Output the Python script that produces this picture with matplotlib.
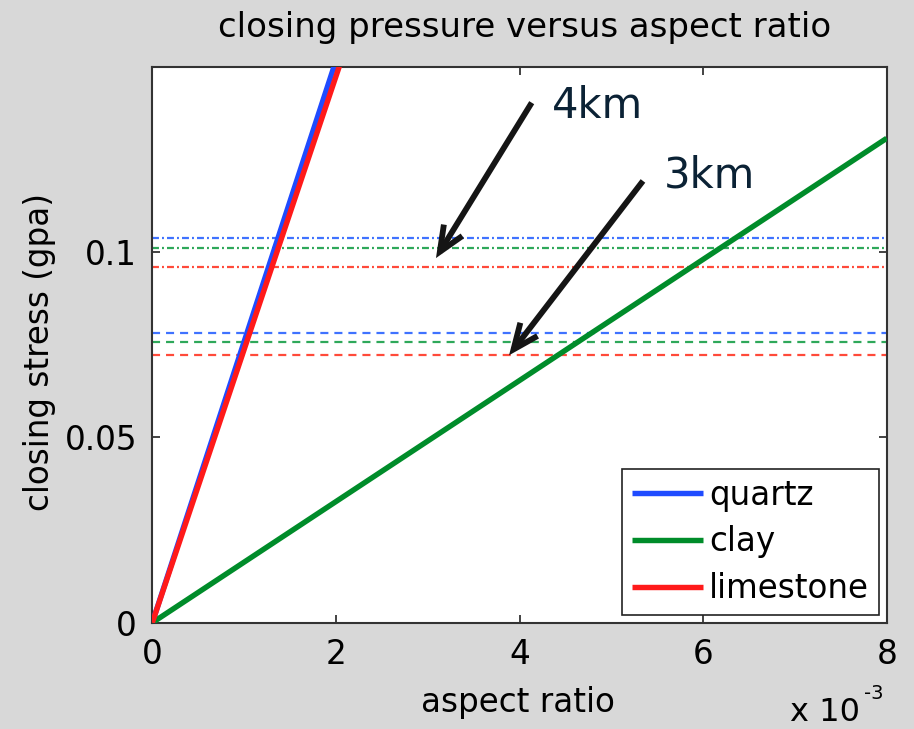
import matplotlib
matplotlib.use("Agg")
import matplotlib.pyplot as plt
from matplotlib.ticker import FuncFormatter, FixedLocator

plt.rcParams["font.family"] = ["DejaVu Sans"]
plt.rcParams["lines.scale_dashes"] = False

# Closing stress is linear in aspect ratio for each mineral
aspect_ratio = [0.0, 0.008]
quartz_stress = [0.0, 0.606]
clay_stress = [0.0, 0.1306]
limestone_stress = [0.0, 0.589]

# Confining stress levels at two depths (quartz, clay, limestone)
stress_4km = [0.1038, 0.1011, 0.0959]
stress_3km = [0.0782, 0.0757, 0.0721]

minerals = ["quartz", "clay", "limestone"]
line_colors = ["#1f4bff", "#008c2a", "#ff1a1a"]
level_colors = ["#3f72ff", "#2ea85a", "#ff4a3a"]

x_ticks = [0.0, 0.002, 0.004, 0.006, 0.008]
y_ticks = [0.0, 0.05, 0.1]
y_tick_labels = ["0", "0.05", "0.1"]

fig = plt.figure(figsize=(9.14, 7.29), dpi=100, facecolor="#d8d8d8")
ax = fig.add_axes([152.3 / 914, 1 - 622.7 / 729, 734.4 / 914, 556.0 / 729])
ax.set_facecolor("white")

fs = 23.5

# Depth reference levels
for val, col in zip(stress_4km, level_colors):
    ax.plot(aspect_ratio, [val, val], color=col, lw=1.6,
            dashes=(5.0, 2.2, 1.4, 2.2), zorder=2)
for val, col in zip(stress_3km, level_colors):
    ax.plot(aspect_ratio, [val, val], color=col, lw=1.6,
            dashes=(5.8, 4.3), zorder=2)

series = [quartz_stress, clay_stress, limestone_stress]
for name, ys, col in zip(minerals, series, line_colors):
    ax.plot(aspect_ratio, ys, color=col, lw=3.9, label=name, zorder=3,
            solid_capstyle="butt")

ax.set_xlim(0, 0.008)
ax.set_ylim(0, 0.1499)

ax.xaxis.set_major_locator(FixedLocator(x_ticks))
ax.xaxis.set_major_formatter(FuncFormatter(lambda v, p: f"{v * 1e3:g}"))
ax.yaxis.set_major_locator(FixedLocator(y_ticks))
ax.set_yticklabels(y_tick_labels)

ax.tick_params(direction="in", length=6, width=1.2, colors="#222222",
               labelcolor="black", labelsize=fs, top=True, right=True)
ax.tick_params(axis="x", pad=11)
ax.tick_params(axis="y", pad=11)
for sp in ax.spines.values():
    sp.set_linewidth(1.5)
    sp.set_color("#333333")

leg = ax.legend(loc="lower right", fontsize=fs, frameon=True, fancybox=False,
                edgecolor="#222222", framealpha=1, borderaxespad=0.24,
                borderpad=0.3, handlelength=2.18, handletextpad=0.18,
                labelspacing=0.42)
leg.get_frame().set_linewidth(1.2)

# Depth annotations
arrow_style = dict(arrowstyle="->,head_length=0.7,head_width=0.3",
                   lw=4.2, color="#151515", shrinkA=0, shrinkB=0,
                   mutation_scale=26, joinstyle="miter", capstyle="butt")
ax.annotate("", xy=(0.003090, 0.0983), xytext=(0.004133, 0.1402),
            arrowprops=arrow_style, zorder=5)
ax.annotate("", xy=(0.003886, 0.0721), xytext=(0.005345, 0.1191),
            arrowprops=arrow_style, zorder=5)
ax.text(0.004351, 0.1360, "4km", fontsize=30, color="#0b2235",
        ha="left", va="baseline", zorder=6)
ax.text(0.005574, 0.1172, "3km", fontsize=30, color="#0b2235",
        ha="left", va="baseline", zorder=6)

fig.text(525 / 914, 1 - 37 / 729, "closing pressure versus aspect ratio",
         fontsize=24.5, ha="center", va="baseline")
fig.text(518 / 914, 1 - 712 / 729, "aspect ratio", fontsize=fs,
         ha="center", va="baseline")
fig.text(40 / 914, 1 - 352 / 729, "closing stress (gpa)", fontsize=fs,
         ha="center", va="center", rotation=90)
fig.text(790 / 914, 1 - 721 / 729, "x 10", fontsize=23, ha="left",
         va="baseline")
fig.text(864 / 914, 1 - 699 / 729, "-3", fontsize=14, ha="left",
         va="baseline")

fig.savefig("out.png", dpi=100, facecolor=fig.get_facecolor())
